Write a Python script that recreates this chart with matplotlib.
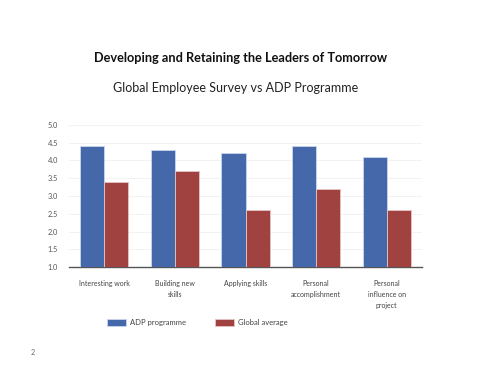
import matplotlib
matplotlib.use("Agg")
import matplotlib.pyplot as plt
import numpy as np

categories = ["Interesting work", "Building new\nskills", "Applying skills",
              "Personal\naccomplishment", "Personal\ninfluence on\nproject"]
adp = [4.4, 4.3, 4.2, 4.4, 4.1]
global_avg = [3.4, 3.7, 2.6, 3.2, 2.6]
series_names = ["ADP programme", "Global average"]
yticks = [1.0, 1.5, 2.0, 2.5, 3.0, 3.5, 4.0, 4.5, 5.0]

blue = "#4468AA"
red = "#A0423F"
font = ["Lato", "DejaVu Sans"]
plt.rcParams['font.family'] = font

fig = plt.figure(figsize=(5, 3.74), dpi=100)
ax = fig.add_axes([0.138, 0.286, 0.706, 0.380])

x = np.arange(len(categories))
w = 0.34
ax.bar(x - w/2, [v - 1 for v in adp], w, bottom=1, color=blue, edgecolor="#c9d6ec", linewidth=0.6, label=series_names[0], zorder=3)
ax.bar(x + w/2, [v - 1 for v in global_avg], w, bottom=1, color=red, edgecolor="#e6c4c3", linewidth=0.6, label=series_names[1], zorder=3)

ax.set_xlim(-0.5, len(categories) - 0.5)
ax.set_ylim(1.0, 5.0)
ax.set_yticks(yticks)
ax.set_yticklabels([f"{t:.1f}" for t in yticks], fontsize=5.3, color="#555555")
ax.set_xticks(x)
ax.set_xticklabels(categories, fontsize=5, color="#444444", linespacing=1.7, va="top")
ax.tick_params(axis="both", length=0)
ax.tick_params(axis="x", pad=9)
ax.tick_params(axis="y", pad=8)
ax.grid(axis="y", color="#f0f0f0", linewidth=0.6, zorder=0)
for s in ["top", "right", "left"]:
    ax.spines[s].set_visible(False)
ax.spines["bottom"].set_color("#555555")
ax.spines["bottom"].set_linewidth(1.0)

fig.text(0.482, 0.845, "Developing and Retaining the Leaders of Tomorrow",
         ha="center", va="center", fontsize=9.2, fontweight="bold", color="#111111")
fig.text(0.471, 0.765, "Global Employee Survey vs ADP Programme",
         ha="center", va="center", fontsize=9.0, color="#222222")
fig.text(0.066, 0.058, "2", ha="center", va="center", fontsize=5, color="#666666")

leg = fig.legend(loc="center", bbox_to_anchor=(0.395, 0.137), ncol=2, frameon=False,
                 fontsize=5.5, handlelength=2.5, handleheight=0.9, columnspacing=3.8,
                 handletextpad=0.5)
for t in leg.get_texts():
    t.set_color("#444444")

fig.savefig("out.png", dpi=100)
